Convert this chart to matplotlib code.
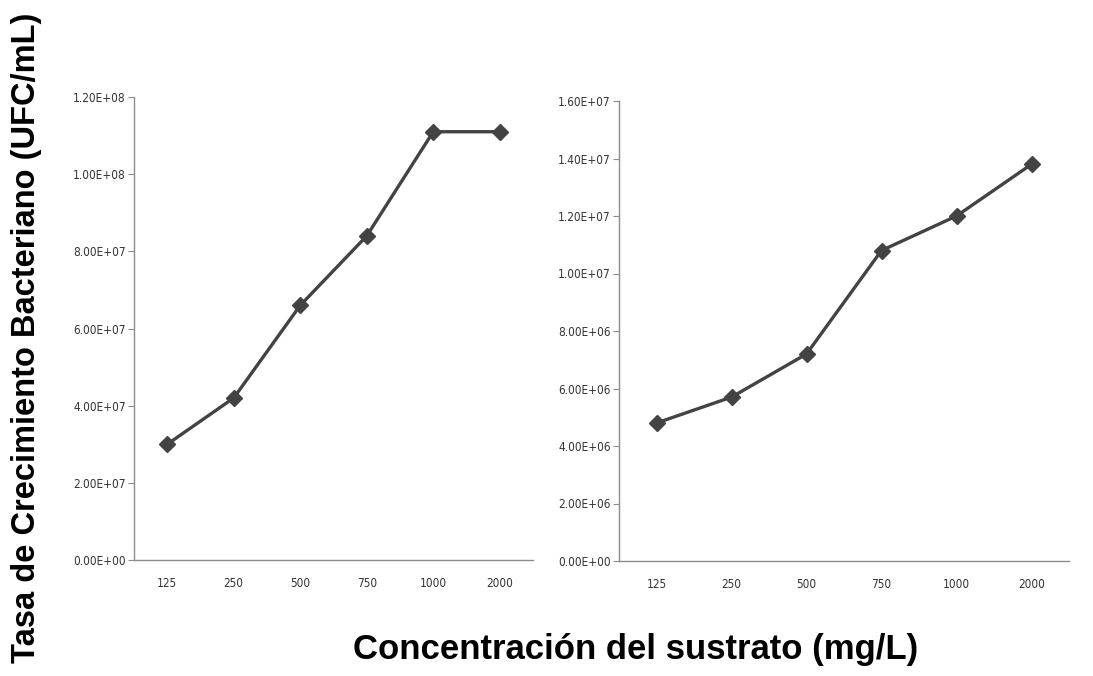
import matplotlib
matplotlib.use("Agg")
import matplotlib.pyplot as plt
from matplotlib.ticker import FuncFormatter

# concentraciones del sustrato (mg/L)
concentraciones = ['125', '250', '500', '750', '1000', '2000']
# tasa de crecimiento, grafico izquierdo y derecho (UFC/mL)
tasa_izq = [3.0e7, 4.2e7, 6.6e7, 8.4e7, 1.11e8, 1.11e8]
tasa_der = [4.8e6, 5.7e6, 7.2e6, 1.08e7, 1.20e7, 1.38e7]

tick_font = ['Liberation Sans Narrow', 'DejaVu Sans']
label_font = ['Liberation Sans', 'DejaVu Sans']

def excel_sci(v, pos):
    if v == 0:
        return '0.00E+00'
    s = '%.2E' % v
    return s

fig = plt.figure(figsize=(10.93, 6.76), dpi=100)
W, H = 1093, 676
# axes rectangles from pixel positions
ax1 = fig.add_axes([134 / W, 1 - 560 / H, 399 / W, 463 / H])
ax2 = fig.add_axes([619 / W, 1 - 561 / H, 450 / W, 460 / H])

x = list(range(len(concentraciones)))
for ax, vals, ymax, step in [(ax1, tasa_izq, 1.2e8, 2e7), (ax2, tasa_der, 1.6e7, 2e6)]:
    ax.plot(x, vals, color='#434343', lw=2.4, marker='D', ms=8,
            mec='#434343', mfc='#434343')
    ax.set_xlim(-0.5, len(concentraciones) - 0.5)
    ax.set_ylim(0, ymax)
    ax.set_yticks([i * step for i in range(int(round(ymax / step)) + 1)])
    ax.yaxis.set_major_formatter(FuncFormatter(excel_sci))
    ax.set_xticks(x)
    ax.set_xticklabels(concentraciones)
    for s in ['top', 'right']:
        ax.spines[s].set_visible(False)
    for s in ['left', 'bottom']:
        ax.spines[s].set_color('#8c8c8c')
        ax.spines[s].set_linewidth(1.0)
    ax.tick_params(axis='y', length=4, color='#8c8c8c', pad=2)
    ax.tick_params(axis='x', length=0, pad=12)
    for lab in ax.get_xticklabels() + ax.get_yticklabels():
        lab.set_family(tick_font)
        lab.set_fontstretch('condensed')
        lab.set_fontsize(8.5)
        lab.set_color('#333333')

fig.text(27 / W, 0.5, 'Tasa de Crecimiento Bacteriano (UFC/mL)', rotation=90,
         va='center', ha='center', fontsize=23.5, fontweight='bold', family=label_font)
fig.text(636 / W, 1 - 650 / H, 'Concentración del sustrato (mg/L)',
         va='center', ha='center', fontsize=25, fontweight='bold', family=label_font)

fig.savefig('out.png', dpi=100)
